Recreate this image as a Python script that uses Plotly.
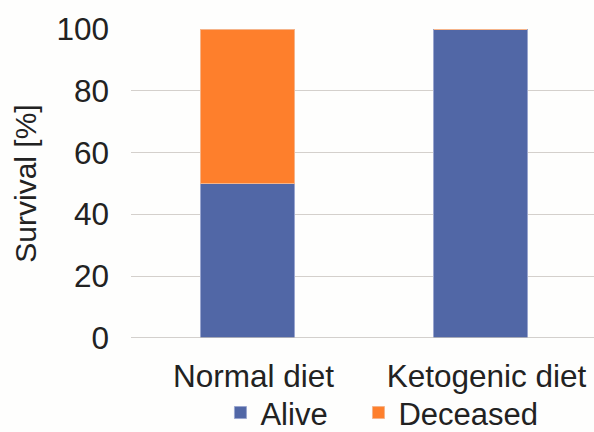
import plotly.graph_objects as go

# Survival by diet group (percent)
diets = ["Normal diet", "Ketogenic diet"]
alive = [50, 100]
deceased = [50, 0]
y_ticks = [0, 20, 40, 60, 80, 100]

BLUE = "#5167A6"
ORANGE = "#FE7F2C"
FONT = "Liberation Sans, Arial, sans-serif"
TEXT = "#222222"
NBSP = "\u00a0"

fig = go.Figure()
fig.add_trace(go.Bar(
    x=diets, y=alive, name="Alive" + NBSP * 3,
    marker=dict(color=BLUE, line=dict(color="#9AA6CF", width=1)),
    width=0.4,
))
fig.add_trace(go.Bar(
    x=diets, y=deceased, name="Deceased",
    marker=dict(color=ORANGE, line=dict(color="#F5B48A", width=1)),
    width=0.4,
))

fig.update_layout(
    barmode="stack",
    width=594, height=432,
    margin=dict(l=131, r=0, t=29, b=93.5, autoexpand=False),
    paper_bgcolor="#FEFEFD",
    plot_bgcolor="#FEFEFD",
    font=dict(family=FONT, size=30, color=TEXT),
    showlegend=True,
    legend=dict(
        orientation="h",
        traceorder="normal",
        x=0.542, xanchor="center",
        y=-0.155, yanchor="top",
        font=dict(size=31, color=TEXT),
        bgcolor="rgba(0,0,0,0)",
        itemwidth=30,
        tracegroupgap=0,
    ),
    xaxis=dict(
        range=[-0.5, 1.487],
        showgrid=False,
        showline=False,
        zeroline=False,
        ticks="",
        ticklabelstandoff=16,
        ticklabelshift=6,
        tickfont=dict(size=31.5, color=TEXT),
    ),
    yaxis=dict(
        range=[0, 100],
        tickvals=y_ticks,
        ticktext=[str(v) for v in y_ticks],
        showgrid=True,
        gridcolor="#D4D0CC",
        gridwidth=1.2,
        zeroline=False,
        showline=False,
        ticks="",
        ticklabelstandoff=21,
        tickfont=dict(size=31.5, color=TEXT),
        title=dict(text="Survival [%]", font=dict(size=30, color=TEXT), standoff=10),
    ),
)

# baseline of the value axis
fig.add_shape(type="line", xref="paper", yref="y", x0=0, x1=1, y0=0, y1=0,
              line=dict(color="#C4C0BC", width=1.5), layer="above")

fig.write_html("out.html")
